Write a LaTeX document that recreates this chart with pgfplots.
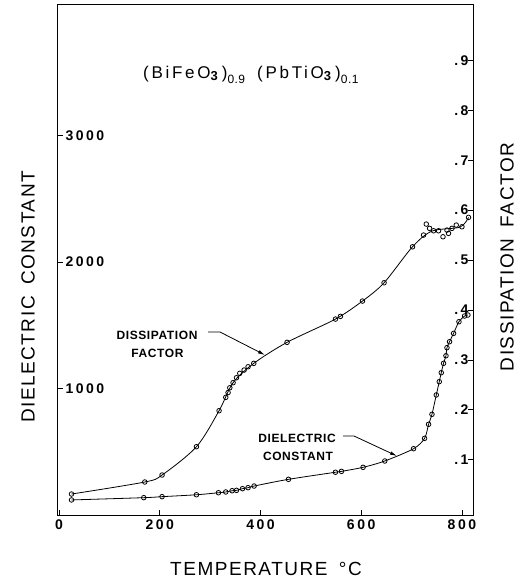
\documentclass[border=0pt]{standalone}
\usepackage{fontspec}
\setmainfont{Liberation Sans}
\usepackage{pgfplots}
\usepackage{pgfplotstable}
\pgfplotsset{compat=1.18}
\usetikzlibrary{arrows.meta}
\newfontfamily\tickfont[LetterSpace=18]{Liberation Sans}
\newfontfamily\labfont[LetterSpace=8]{Liberation Sans}
\newfontfamily\annfont[LetterSpace=5]{Liberation Sans}
\newfontfamily\titfont[LetterSpace=16]{Liberation Sans}
\newfontfamily\subfont[LetterSpace=4]{Liberation Sans}

% dielectric constant (left axis)
\pgfplotstableread{
x y
24.8 119
168.3 137
204.6 145
272.9 160
316.6 176
331.1 182
343.7 192
352.4 195
364.3 208
375.4 216
387.3 229
455.6 282
548.9 338
560.8 345
603.7 377
646.8 427
703.9 524
725.8 606
733.8 717
740.5 796
749.1 949
755.0 1054
759.0 1125
763.5 1199
768.3 1259
770.3 1323
775.4 1370
783.4 1436
794.1 1528
805.2 1573
811.9 1581
}\dcdata

% dissipation factor points (right axis)
\pgfplotstableread{
x y
24.8 .0313
170.3 .0554
204.6 .0694
272.9 .1261
317.8 .1982
331.1 .2250
335.7 .2346
339.1 .2442
345.6 .2543
352.4 .2643
358.9 .2731
367.5 .2797
375.4 .2863
386.7 .2931
452.8 .3352
548.9 .3818
558.8 .3872
602.5 .4179
645.4 .4545
701.9 .5266
723.8 .5501
729.2 .5721
735.8 .5635
743.7 .5587
753.6 .5587
762.4 .5467
770.3 .5601
773.4 .5535
780.2 .5635
788.7 .5701
800.0 .5667
813.1 .5855
}\dfdata

% dissipation factor drawn curve
\pgfplotstableread{
x y
24.8 .0313
170.3 .0554
204.6 .0694
272.9 .1261
317.8 .1982
345.6 .2543
386.7 .2931
452.8 .3352
548.9 .3818
602.5 .4179
645.4 .4545
701.9 .5266
740.5 .558
796.0 .566
813.1 .5855
}\dfline

\begin{document}
\begin{tikzpicture}
\pgfplotsset{every axis/.append style={
  scale only axis, width=415pt, height=510pt,
  at={(0pt,0pt)}, anchor=south west,
  xmin=-2, xmax=822,
  axis line style={line width=1pt},
  tick style={line width=0.8pt, black},
  major tick length=5pt, tick align=inside,
  /pgf/number format/assume math mode=true,
  tick label style={font={\tickfont\fontsize{14}{14}\selectfont\bfseries}},
}}
\begin{axis}[
  ymin=0, ymax=4032,
  xtick={0,200,400,600,800}, xtick pos=bottom,
  xticklabel style={yshift=-1pt},
  ytick={1000,2000,3000}, ytick pos=left,
  yticklabels={1000,2000,3000},
  yticklabel style={anchor=west, xshift=4pt},
]
\addplot[black, line width=0.8pt, smooth, tension=0.5] table[x=x,y=y]{\dcdata};
\addplot[only marks, mark=o, mark size=2.3pt, mark options={line width=0.8pt, fill=white, draw=black}] table[x=x,y=y]{\dcdata};
\end{axis}
\begin{axis}[
  ymin=-0.0107, ymax=1.011,
  axis x line=none, axis y line*=right,
  ytick={0.1,0.2,0.3,0.4,0.5,0.6,0.7,0.8,0.9},
  yticklabels={.1,.2,.3,.4,.5,.6,.7,.8,.9},
  yticklabel style={anchor=east, xshift=-1pt},
]
\addplot[black, line width=0.8pt, smooth, tension=0.5] table[x=x,y=y]{\dfline};
\addplot[only marks, mark=o, mark size=2.3pt, mark options={line width=0.8pt, fill=white, draw=black}] table[x=x,y=y]{\dfdata};
\end{axis}

% title formula
\node[anchor=base west, font={\titfont\fontsize{17}{17}\selectfont}, inner sep=0pt] at (85pt,436pt)
 {(BiFeO\raisebox{-1.5pt}{\subfont\fontsize{13}{13}\selectfont\bfseries 3}\hspace{4pt})\raisebox{-5pt}{\subfont\fontsize{12}{12}\selectfont 0.9}\hspace{12pt}(PbTiO\raisebox{-1.5pt}{\subfont\fontsize{13}{13}\selectfont\bfseries 3}\hspace{4pt})\raisebox{-5pt}{\subfont\fontsize{12}{12}\selectfont 0.1}};

% annotations
\begin{scope}[font={\annfont\fontsize{12}{12}\selectfont\bfseries}]
\node[anchor=base, inner sep=0pt] at (99pt,175pt) {DISSIPATION};
\node[anchor=base, inner sep=0pt] at (99.5pt,157pt) {FACTOR};
\node[anchor=base, inner sep=0pt] at (239pt,72pt) {DIELECTRIC};
\node[anchor=base, inner sep=0pt] at (240pt,54pt) {CONSTANT};
\end{scope}
\draw[line width=0.8pt, -{Latex[length=7pt,width=3.5pt]}] (150pt,183pt) -- (162pt,183pt) -- (207pt,160pt);
\draw[line width=0.8pt, -{Latex[length=7pt,width=3.5pt]}] (285pt,79pt) -- (296pt,79pt) -- (339pt,59pt);

% axis labels
\begin{scope}[font={\labfont\fontsize{19}{19}\selectfont}]
\node[rotate=90] at (-30pt,218pt) {DIELECTRIC\hspace{0.6em}CONSTANT};
\node[rotate=90] at (449pt,258pt) {DISSIPATION\hspace{0.6em}FACTOR};
\node[anchor=base] at (208pt,-60pt) {TEMPERATURE\hspace{0.6em}°C};
\end{scope}

\pgfresetboundingbox
\path (-58pt,-67pt) rectangle (460pt,515pt);
\end{tikzpicture}
\end{document}
